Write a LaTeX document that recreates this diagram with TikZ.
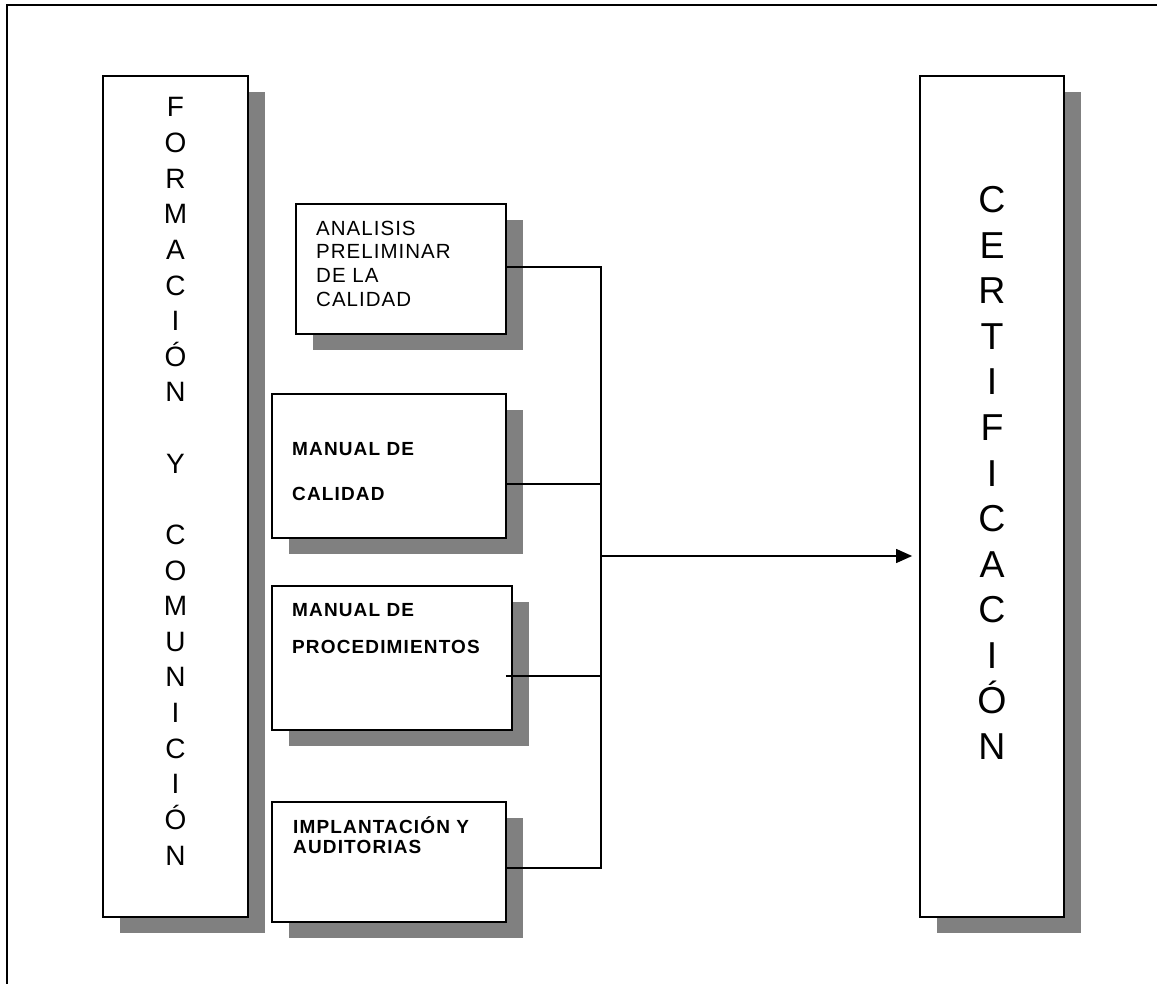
\documentclass[tikz,border=0pt]{standalone}
\usepackage{fontspec}
\setmainfont{Liberation Sans}
\newfontfamily\plainspaced[LetterSpace=5]{Liberation Sans}
\newfontfamily\boldspaced[LetterSpace=6]{Liberation Sans}
\usetikzlibrary{arrows.meta,shadows}
\definecolor{shadowgray}{RGB}{128,128,128}
\begin{document}
\begin{tikzpicture}[x=1pt,y=-1pt,
  panel/.style={draw=black,line width=1.8pt,fill=white,rectangle,inner sep=0pt,
    general shadow={fill=shadowgray,shadow xshift=16.5pt,shadow yshift=-16pt}},
  link/.style={line width=1.3pt},
  letter/.style={anchor=base,inner sep=0pt,font=\fontsize{28}{34}\selectfont},
  bigletter/.style={anchor=base,inner sep=0pt,font=\fontsize{37.5}{45}\selectfont},
  plainlabel/.style={anchor=base west,inner sep=0pt,font=\plainspaced\fontsize{20.5}{24}\selectfont},
  boldlabel/.style={anchor=base west,inner sep=0pt,font=\boldspaced\bfseries\fontsize{19}{22}\selectfont}]

\useasboundingbox (0,0) rectangle (1157,984);

% page frame (open at the bottom and right)
\draw[line width=1.5pt] (7,984) -- (7,5) -- (1157,5);

% tall side panels
\node[panel,minimum width=145pt,minimum height=841pt] (form) at (175.5,496.5) {};
\node[panel,minimum width=144pt,minimum height=841pt] (cert) at (992,496.5) {};

% stage boxes
\node[panel,minimum width=210pt,minimum height=130pt] (b1) at (401,269) {};
\node[panel,minimum width=234pt,minimum height=144pt] (b2) at (389,466) {};
\node[panel,minimum width=240pt,minimum height=144pt] (b3) at (392,658) {};
\node[panel,minimum width=234pt,minimum height=120pt] (b4) at (389,862) {};

% vertical lettering
\foreach \k/\c in {0/F,1/O,2/R,3/M,4/A,5/C,6/I,7/Ó,8/N,10/Y,12/C,13/O,14/M,15/U,16/N,17/I,18/C,19/I,20/Ó,21/N}
  \node[letter] (fl\k) at (175.5,{117+35.62*\k}) {\c};
\foreach \c [count=\k from 0] in {C,E,R,T,I,F,I,C,A,C,I,Ó,N}
  \node[bigletter] (cl\k) at (992,{213+45.5*\k}) {\c};

% box texts
\node[plainlabel] (t1a) at (316,236) {ANALISIS};
\node[plainlabel] (t1b) at (316,259) {PRELIMINAR};
\node[plainlabel] (t1c) at (316,283) {DE LA};
\node[plainlabel] (t1d) at (316,307) {CALIDAD};
\node[boldlabel] (t2a) at (292,455) {MANUAL DE};
\node[boldlabel] (t2b) at (292,500) {CALIDAD};
\node[boldlabel] (t3a) at (292,616) {MANUAL DE};
\node[boldlabel] (t3b) at (292,653) {PROCEDIMIENTOS};
\node[boldlabel] (t4a) at (293,833) {IMPLANTACIÓN Y};
\node[boldlabel] (t4b) at (293,853) {AUDITORIAS};

% collecting bus and arrow
\coordinate (j1) at (601,267);
\coordinate (j2) at (601,484);
\coordinate (j3) at (601,676);
\coordinate (j4) at (601,868);
\coordinate (jm) at (601,556);
\coordinate (b3in) at ([xshift=-7pt]b3.east);
\draw[link] (b1.east |- j1) -- (j1) -- (j4) -- (b4.east |- j4);
\draw[link] (b2.east |- j2) -- (j2);
\draw[link] (b3in |- j3) -- (j3);
\draw[link,-{Triangle[length=16pt,width=14pt]},shorten >=7pt] (jm) -- (cert.west |- jm);
\end{tikzpicture}
\end{document}
